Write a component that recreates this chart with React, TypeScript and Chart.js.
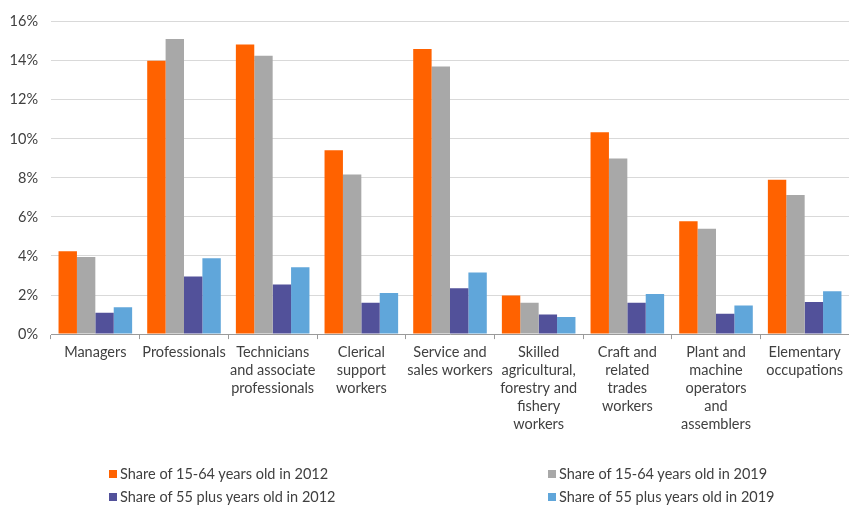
import React, { useEffect, useRef } from "react";
import { Chart, registerables } from "chart.js";

Chart.register(...registerables);

const categories: string[][] = [
  ["Managers"],
  ["Professionals"],
  ["Technicians", "and associate", "professionals"],
  ["Clerical", "support", "workers"],
  ["Service and", "sales workers"],
  ["Skilled", "agricultural,", "forestry and", "fishery", "workers"],
  ["Craft and", "related", "trades", "workers"],
  ["Plant and", "machine", "operators", "and", "assemblers"],
  ["Elementary", "occupations"],
];

const share1564_2012 = [4.24, 14.0, 14.83, 9.41, 14.6, 1.98, 10.34, 5.78, 7.91];
const share1564_2019 = [3.95, 15.12, 14.26, 8.18, 13.7, 1.6, 9.0, 5.39, 7.12];
const share55_2012 = [1.09, 2.95, 2.54, 1.6, 2.35, 1.0, 1.6, 1.04, 1.64];
const share55_2019 = [1.38, 3.89, 3.43, 2.11, 3.15, 0.87, 2.06, 1.47, 2.2];

const seriesLabels = [
  "Share of 15-64 years old in 2012",
  "Share of 15-64 years old in 2019",
  "Share of 55 plus years old in 2012",
  "Share of 55 plus years old in 2019",
];
const seriesColors = ["#FF6200", "#A8A8A8", "#52519A", "#60A6DA"];

const FONT = "Lato";
const TEXT = "#404040";

export default function App() {
  const ref = useRef<HTMLCanvasElement | null>(null);

  useEffect(() => {
    if (!ref.current) return;
    const data = [share1564_2012, share1564_2019, share55_2012, share55_2019];
    const chart = new Chart(ref.current, {
      type: "bar",
      data: {
        labels: categories,
        datasets: data.map((d, i) => ({
          label: seriesLabels[i],
          data: d,
          backgroundColor: seriesColors[i],
          borderWidth: 0,
          barPercentage: 1,
          categoryPercentage: 0.83,
        })),
      },
      options: {
        responsive: false,
        animation: false,
        layout: { padding: { left: 0, right: 0, top: 11, bottom: 69 } },
        plugins: {
          legend: { display: false },
          tooltip: { enabled: false },
        },
        scales: {
          x: {
            grid: {
              offset: true,
              drawOnChartArea: false,
              drawTicks: true,
              tickLength: 5,
              color: "#9a9a9a",
            },
            border: { display: true, color: "#9a9a9a" },
            ticks: {
              autoSkip: false,
              maxRotation: 0,
              minRotation: 0,
              padding: 4,
              color: TEXT,
              font: { family: FONT, size: 14.5, lineHeight: 1.24 },
            },
          },
          y: {
            min: 0,
            max: 16,
            afterFit: (s: any) => {
              s.width = 51;
            },
            grid: { color: "#d9d9d9", drawTicks: false, tickLength: 0 },
            border: { display: false },
            ticks: {
              stepSize: 2,
              padding: 13,
              color: TEXT,
              font: { family: FONT, size: 14.5 },
              callback: (v: any) => v + "%",
            },
          },
        },
      },
    });
    return () => chart.destroy();
  }, []);

  const legendPos = [
    { left: 109, top: 466 },
    { left: 548, top: 466 },
    { left: 109, top: 489 },
    { left: 548, top: 489 },
  ];

  return (
    <div style={{ position: "fixed", left: 0, top: 0, width: 849, height: 506, background: "#fff" }}>
      <canvas ref={ref} width={849} height={506} style={{ display: "block" }} />
      {seriesLabels.map((l, i) => (
        <div
          key={l}
          style={{
            position: "absolute",
            left: legendPos[i].left,
            top: legendPos[i].top,
            display: "flex",
            alignItems: "center",
            fontFamily: FONT,
            fontSize: 14.5,
            color: TEXT,
            lineHeight: "16px",
            whiteSpace: "nowrap",
          }}
        >
          <span style={{ display: "inline-block", width: 8, height: 8, background: seriesColors[i], marginRight: 3 }} />
          {l}
        </div>
      ))}
    </div>
  );
}
